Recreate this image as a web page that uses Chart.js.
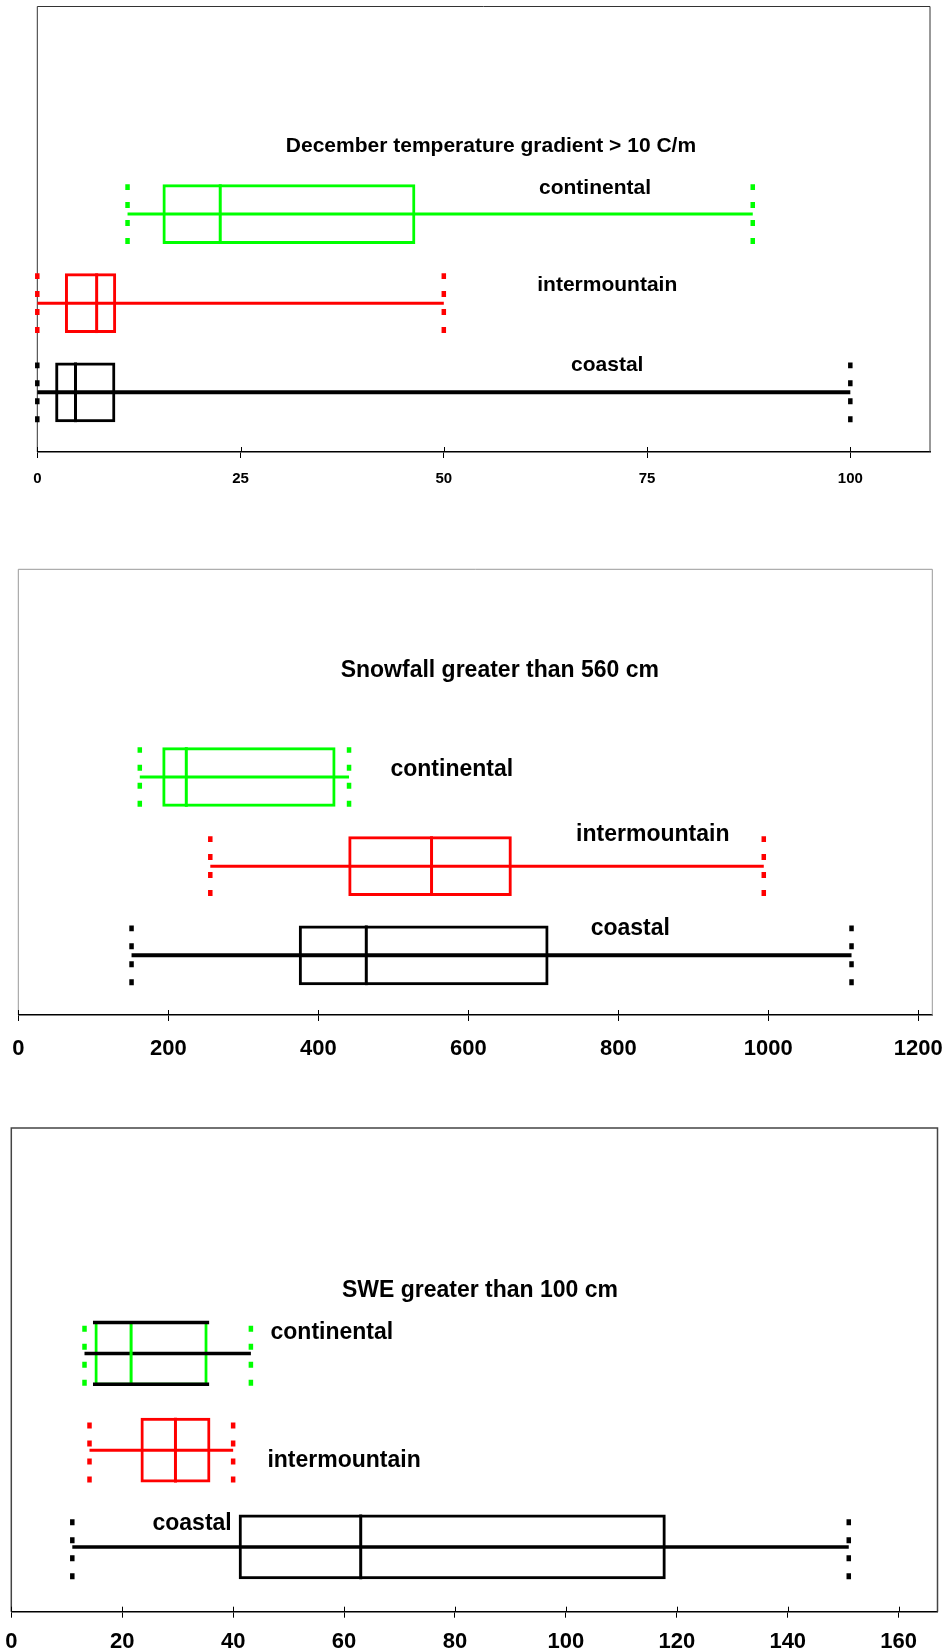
<!DOCTYPE html>
<html>
<head>
<meta charset="utf-8">
<script src="https://cdn.jsdelivr.net/npm/chart.js@4.4.1/dist/chart.umd.min.js"></script>
<style>
  body { margin: 0; background: #fff; width: 947px; height: 1652px; position: relative; overflow: hidden; }
  canvas { position: absolute; left: 0; }
</style>
</head>
<body>
<canvas id="chartTemp" width="947" height="492" style="top:0px"></canvas>
<canvas id="chartSnow" width="947" height="497" style="top:563px"></canvas>
<canvas id="chartSwe" width="947" height="530" style="top:1122px"></canvas>
<script>
const regions = ['continental', 'intermountain', 'coastal'];
const boxColors = ['#00ff00', '#ff0000', '#000000'];

// December temperature gradient > 10 C/m
const tempLow = [11.1, 0, 0];
const tempQ1 = [15.4, 3.4, 2.2];
const tempMedian = [22.5, 7.3, 4.7];
const tempQ3 = [46.5, 9.7, 9.6];
const tempHigh = [88, 50, 100];
const tempTicks = [0, 25, 50, 75, 100];

// Snowfall greater than 560 cm
const snowLow = [162, 256, 151];
const snowQ1 = [192, 440, 374];
const snowMedian = [224, 551, 464];
const snowQ3 = [423, 658, 707];
const snowHigh = [441, 994, 1111];
const snowTicks = [0, 200, 400, 600, 800, 1000, 1200];

// SWE greater than 100 cm
const sweLow = [13.2, 14.1, 11];
const sweQ1 = [15.0, 23.3, 41];
const sweMedian = [21.6, 29.6, 63];
const sweQ3 = [35.4, 35.9, 118];
const sweHigh = [43.2, 40, 151];
const sweTicks = [0, 20, 40, 60, 80, 100, 120, 140, 160];

const FONT = "'Liberation Sans', Arial, sans-serif";
const rowPos = [2.33, 3.33, 4.33];

function makeBoxChart(canvasId, cfg) {
    const boxPlugin = {
        id: 'boxPlot',
        beforeDatasetsDraw(chart) {
            const { ctx, chartArea: a } = chart;
            ctx.save();
            ctx.strokeStyle = cfg.frameColor;
            ctx.lineWidth = cfg.frameWidth;
            ctx.beginPath();
            ctx.moveTo(a.left, a.bottom);
            ctx.lineTo(a.left, a.top);
            ctx.lineTo(a.right, a.top);
            ctx.lineTo(a.right, a.bottom);
            ctx.stroke();
            ctx.restore();
        },
        afterDatasetsDraw(chart) {
            const ctx = chart.ctx;
            const xs = chart.scales.x, ys = chart.scales.y;
            const bars = chart.getDatasetMeta(0).data;
            const line = (x1, y1, x2, y2) => {
                ctx.beginPath();
                ctx.moveTo(x1, y1);
                ctx.lineTo(x2, y2);
                ctx.stroke();
            };
            ctx.save();
            bars.forEach((bar, i) => {
                const top = bar.y - bar.height / 2;
                const bottom = bar.y + bar.height / 2;
                // whisker line through the box
                ctx.setLineDash([]);
                ctx.strokeStyle = cfg.whiskerColors[i];
                ctx.lineWidth = cfg.whiskerWidths[i];
                line(xs.getPixelForValue(cfg.low[i]), bar.y, xs.getPixelForValue(cfg.high[i]), bar.y);
                // median
                ctx.strokeStyle = boxColors[i];
                ctx.lineWidth = 3;
                const m = xs.getPixelForValue(cfg.median[i]);
                line(m, top, m, bottom);
                // top/bottom edges in another colour
                if (cfg.edgeColors[i]) {
                    ctx.strokeStyle = cfg.edgeColors[i];
                    ctx.lineWidth = 3.5;
                    line(bar.base - 1.5, top + 1.5, bar.x + 1.5, top + 1.5);
                    line(bar.base - 1.5, bottom - 1.5, bar.x + 1.5, bottom - 1.5);
                }
                // dotted caps
                ctx.strokeStyle = boxColors[i];
                ctx.lineWidth = 4.5;
                ctx.setLineDash([6, 12]);
                [cfg.low[i], cfg.high[i]].forEach(v => {
                    const px = xs.getPixelForValue(v);
                    line(px, bottom, px, top);
                });
            });
            ctx.setLineDash([]);

            // text
            ctx.fillStyle = '#000';
            ctx.font = 'bold ' + cfg.textSize + 'px ' + FONT;
            ctx.textAlign = 'center';
            ctx.textBaseline = 'alphabetic';
            ctx.fillText(cfg.title, xs.getPixelForValue(cfg.titlePos.x), ys.getPixelForValue(cfg.titlePos.y));
            regions.forEach((r, i) => {
                const p = cfg.labelPos[i];
                ctx.fillText(r, xs.getPixelForValue(p.x), ys.getPixelForValue(p.y));
            });
            ctx.restore();
        },
        afterDraw(chart) {
            // tick marks also reach a little above the axis
            const { ctx } = chart;
            const xs = chart.scales.x;
            ctx.save();
            ctx.strokeStyle = '#000';
            ctx.lineWidth = 1;
            xs.ticks.forEach(t => {
                const px = Math.round(xs.getPixelForValue(t.value)) + 0.5;
                ctx.beginPath();
                ctx.moveTo(px, xs.top - 5);
                ctx.lineTo(px, xs.top);
                ctx.stroke();
            });
            ctx.restore();
        }
    };

    return new Chart(document.getElementById(canvasId), {
        type: 'bar',
        data: {
            datasets: [{
                data: regions.map((r, i) => ({ x: [cfg.q1[i], cfg.q3[i]], y: rowPos[i] })),
                backgroundColor: 'rgba(0,0,0,0)',
                borderColor: boxColors,
                borderWidth: 3,
                borderSkipped: false,
                barPercentage: 0.67,
                categoryPercentage: 1
            }]
        },
        options: {
            indexAxis: 'y',
            responsive: false,
            animation: false,
            events: [],
            layout: { padding: cfg.padding },
            plugins: {
                legend: { display: false },
                tooltip: { enabled: false }
            },
            scales: {
                x: {
                    type: 'linear',
                    min: 0,
                    max: cfg.max,
                    afterFit: s => {
                        s.height = cfg.axisHeight;
                        s.paddingLeft = 0;
                        s.paddingRight = 0;
                    },
                    afterBuildTicks: s => { s.ticks = cfg.tickValues.map(v => ({ value: v })); },
                    border: { display: true, color: '#000', width: 1.5 },
                    grid: { drawOnChartArea: false, drawTicks: true, tickLength: 6, color: '#000', lineWidth: 1 },
                    ticks: {
                        color: '#000',
                        autoSkip: false,
                        maxRotation: 0,
                        padding: cfg.tickPadding,
                        callback: v => String(v),
                        font: { family: FONT, size: cfg.tickSize, weight: 'bold' }
                    }
                },
                y: {
                    type: 'linear',
                    display: false,
                    offset: false,
                    reverse: true,
                    min: 0,
                    max: 5,
                    ticks: { stepSize: 1 }
                }
            }
        },
        plugins: [boxPlugin]
    });
}

makeBoxChart('chartTemp', {
    low: tempLow, q1: tempQ1, median: tempMedian, q3: tempQ3, high: tempHigh,
    tickValues: tempTicks, max: 109.8,
    title: 'December temperature gradient > 10 C/m',
    titlePos: { x: 55.8, y: 1.63 },
    labelPos: [{ x: 68.6, y: 2.10 }, { x: 70.1, y: 3.19 }, { x: 70.1, y: 4.09 }],
    textSize: 21, tickSize: 15, tickPadding: 12, axisHeight: 40,
    padding: { top: 6.5, left: 37.3, right: 17, bottom: 0 },
    frameColor: '#333', frameWidth: 1,
    whiskerColors: boxColors, whiskerWidths: [3, 3, 4], edgeColors: [null, null, null]
});

makeBoxChart('chartSnow', {
    low: snowLow, q1: snowQ1, median: snowMedian, q3: snowQ3, high: snowHigh,
    tickValues: snowTicks, max: 1218.7,
    title: 'Snowfall greater than 560 cm',
    titlePos: { x: 642, y: 1.21 },
    labelPos: [{ x: 578, y: 2.32 }, { x: 846, y: 3.05 }, { x: 816, y: 4.10 }],
    textSize: 23, tickSize: 22, tickPadding: 15, axisHeight: 45,
    padding: { top: 6.3, left: 18.3, right: 14.7, bottom: 0 },
    frameColor: '#999', frameWidth: 1,
    whiskerColors: boxColors, whiskerWidths: [3, 3, 4], edgeColors: [null, null, null]
});

makeBoxChart('chartSwe', {
    low: sweLow, q1: sweQ1, median: sweMedian, q3: sweQ3, high: sweHigh,
    tickValues: sweTicks, max: 167,
    title: 'SWE greater than 100 cm',
    titlePos: { x: 84.5, y: 1.745 },
    labelPos: [{ x: 57.8, y: 2.18 }, { x: 60.0, y: 3.50 }, { x: 32.6, y: 4.16 }],
    textSize: 23, tickSize: 22, tickPadding: 11, axisHeight: 40.3,
    padding: { top: 6, left: 11.3, right: 9.5, bottom: 0 },
    frameColor: '#444', frameWidth: 1.5,
    whiskerColors: ['#000000', '#ff0000', '#000000'], whiskerWidths: [3.5, 3, 3.5],
    edgeColors: ['#000000', null, null]
});
</script>
</body>
</html>
